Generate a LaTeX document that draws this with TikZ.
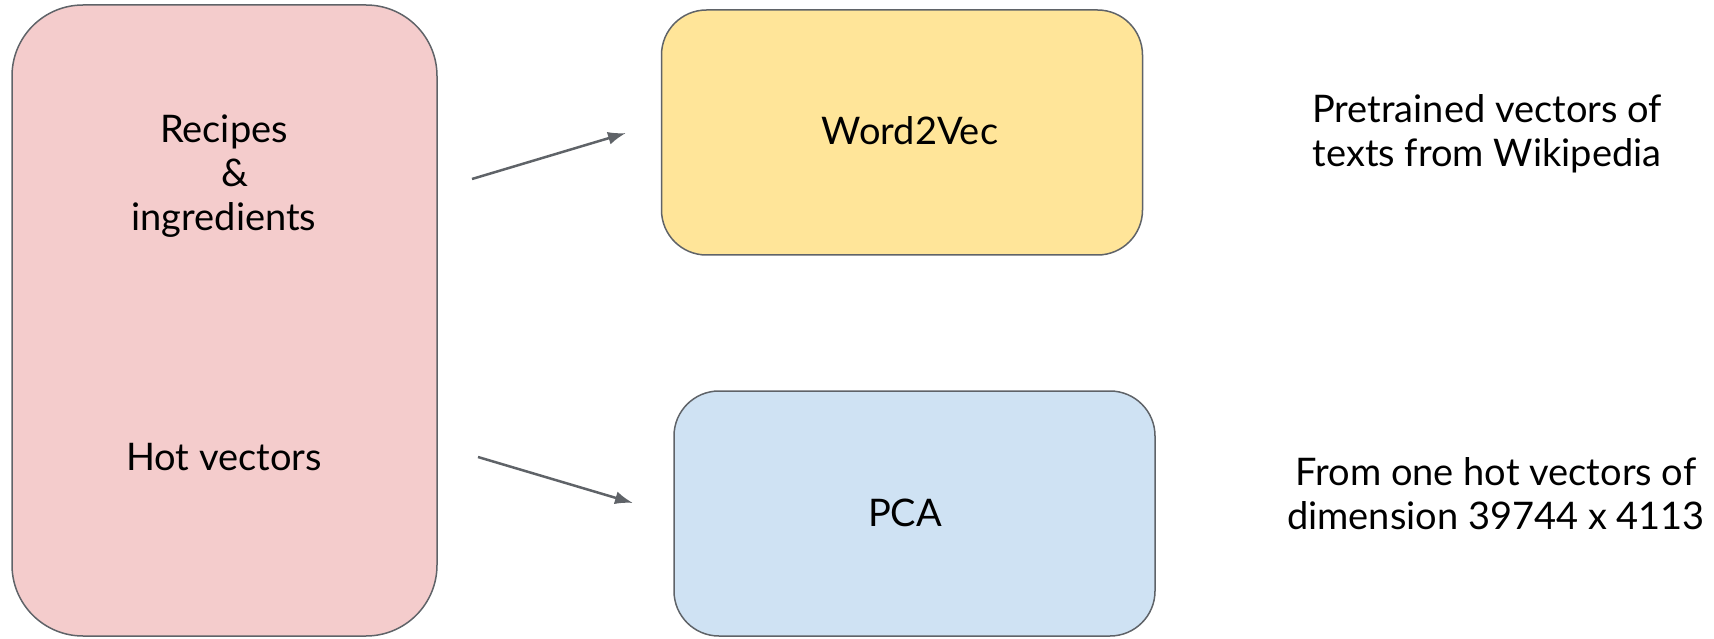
\documentclass[tikz,border=0pt]{standalone}
\usepackage{fontspec}
\setmainfont{Lato}
\usetikzlibrary{positioning,arrows.meta}

\definecolor{recipefill}{HTML}{F4CCCC}
\definecolor{wordfill}{HTML}{FFE599}
\definecolor{pcafill}{HTML}{CFE2F3}
\definecolor{edgegray}{HTML}{5F6368}

\tikzset{
  box/.style={draw=edgegray, line width=1.5pt, rectangle, rounded corners=45pt, inner sep=0pt},
  label/.style={align=center, font=\fontsize{38}{44}\selectfont, inner sep=0pt},
  link/.style={draw=edgegray, line width=2.5pt, -{Latex[length=18pt,width=13pt]}}
}

\begin{document}
\begin{tikzpicture}[x=1pt,y=-1pt]
    \useasboundingbox (0,0) rectangle (1714,639);
    % input box with the two sources
    \node[box, fill=recipefill, rounded corners=71pt, minimum width=425pt, minimum height=631pt] (input) at (224.5,320.5) {};
    \node[label] (recipes) at (224,176) {Recipes\\\hspace*{22pt}\&\\ingredients};
    \node[label] (hot) at (224,457) {Hot vectors};
    % embeddings
    \node[box, fill=wordfill, minimum width=481pt, minimum height=245pt] (w2v) at (902,132.5) {};
    \node[label] at (910,131) {Word2Vec};
    \node[box, fill=pcafill, minimum width=481pt, minimum height=245pt] (pca) at (914.5,513.5) {};
    \node[label] at (905,513) {PCA};
    % notes on the right
    \node[label] (w2vnote) at (1487,134) {Pretrained vectors of\\texts from Wikipedia};
    \node[label] (pcanote) at (1496,494) {From one hot vectors of\\dimension 39744 x 4113};
    % arrows
    \coordinate (recout) at (472,179); \coordinate (w2vin) at (626,133);
    \coordinate (hotout) at (478,457); \coordinate (pcain) at (633,503);
    \draw[link] (recout) -- (w2vin);
    \draw[link] (hotout) -- (pcain);
\end{tikzpicture}
\end{document}
